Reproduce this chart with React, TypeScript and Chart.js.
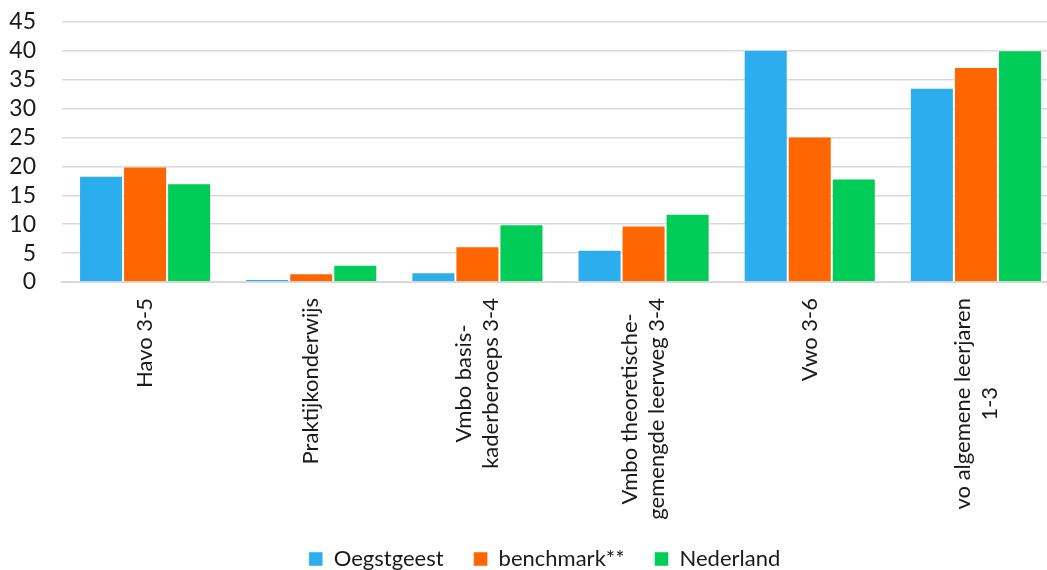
import React, { useEffect, useRef } from "react";
import { Chart, registerables } from "chart.js";

Chart.register(...registerables);

const categories: string[][] = [
  ["Havo 3-5"],
  ["Praktijkonderwijs"],
  ["Vmbo basis-", "kaderberoeps 3-4"],
  ["Vmbo theoretische-", "gemengde leerweg 3-4"],
  ["Vwo 3-6"],
  ["vo algemene leerjaren", "1-3"],
];
const oegstgeest = [18.4, 0.5, 1.7, 5.6, 40.2, 33.6];
const benchmark = [20.0, 1.5, 6.2, 9.8, 25.2, 37.2];
const nederland = [17.1, 3.0, 10.0, 11.8, 17.9, 40.1];
const seriesNames = ["Oegstgeest", "benchmark**", "Nederland"];
const seriesColors = ["#2CADEE", "#FF6600", "#00CC58"];
const yTicks = { min: 0, max: 45, step: 5 };

const FONT = "Lato";
const TEXT = "#1a1a1a";

const labelPlugin = {
  id: "rotatedCenteredLabels",
  afterLayout(chart: any) {
    const lg = chart.legend;
    if (lg) {
      lg.left += 15;
      lg.right += 15;
      lg.top += 10;
      lg.bottom += 10;
    }
  },
  afterDraw(chart: any) {
    const scale = chart.scales.x;
    const ctx = chart.ctx;
    ctx.save();
    ctx.font = `22px ${FONT}`;
    ctx.fillStyle = TEXT;
    ctx.textAlign = "center";
    ctx.textBaseline = "middle";
    const lh = 27;
    categories.forEach((lines, i) => {
      const x = scale.getPixelForValue(i);
      const top = scale.top + 16;
      const w = Math.max(...lines.map((l) => ctx.measureText(l).width));
      ctx.save();
      ctx.translate(x, top);
      ctx.rotate(-Math.PI / 2);
      const n = lines.length;
      lines.forEach((l, j) => {
        ctx.fillText(l, -w / 2, (j - (n - 1) / 2) * lh);
      });
      ctx.restore();
    });
    ctx.restore();
  },
};

export default function App() {
  const ref = useRef<HTMLCanvasElement>(null);
  useEffect(() => {
    if (!ref.current) return;
    const data = [oegstgeest, benchmark, nederland];
    const chart = new Chart(ref.current, {
      type: "bar",
      data: {
        labels: categories.map((c) => c.join(" ")),
        datasets: data.map((d, i) => ({
          label: seriesNames[i],
          data: d,
          backgroundColor: seriesColors[i],
          borderColor: "rgba(255,255,255,0.45)",
          borderWidth: 1,
          categoryPercentage: 0.795,
          barPercentage: 1.0,
        })),
      },
      options: {
        responsive: false,
        animation: false,
        devicePixelRatio: 1,
        layout: { padding: { left: 0, right: 31, top: 22, bottom: 0 } },
        plugins: {
          tooltip: { enabled: false },
          legend: {
            position: "bottom",
            labels: {
              boxWidth: 14,
              boxHeight: 14,
              padding: 30,
              color: TEXT,
              font: { family: FONT, size: 22 },
            },
          },
        },
        scales: {
          x: {
            grid: { display: false, drawTicks: false },
            border: { color: "#d9d9d9", width: 2 },
            ticks: { display: false },
            afterFit: (s: any) => {
              s.height = 226;
            },
          },
          y: {
            min: yTicks.min,
            max: yTicks.max,
            grid: {
              color: "#d9d9d9",
              lineWidth: 1.5,
              drawTicks: true,
              tickLength: 26,
              tickColor: "rgba(0,0,0,0)",
            },
            border: { display: false },
            ticks: {
              stepSize: yTicks.step,
              autoSkip: false,
              padding: 0,
              color: TEXT,
              font: { family: FONT, size: 23 },
            },
            afterFit: (s: any) => {
              s.width = 62;
            },
          },
        },
      },
      plugins: [labelPlugin],
    });
    return () => chart.destroy();
  }, []);
  return (
    <div
      style={{
        position: "fixed",
        left: 0,
        top: 0,
        width: 1047,
        height: 570,
        overflow: "hidden",
        background: "#fff",
      }}
    >
      <canvas ref={ref} width={1090} height={570} style={{ display: "block" }} />
    </div>
  );
}
